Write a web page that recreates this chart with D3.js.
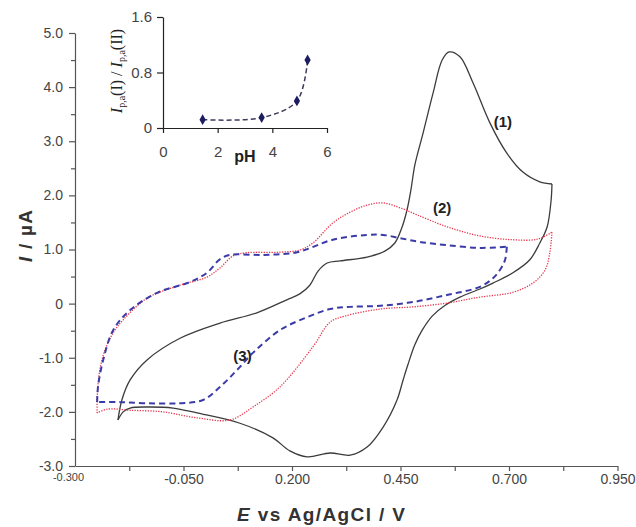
<!DOCTYPE html>
<html><head><meta charset="utf-8">
<script src="https://cdn.jsdelivr.net/npm/d3@7"></script>
<style>body{margin:0;background:#fff} svg{display:block}</style>
</head><body>
<svg id="c" width="636" height="527"></svg>
<script>
// ---- tick data ----
const xTicks = [-0.300, -0.050, 0.200, 0.450, 0.700, 0.950];
const xTickLabels = ["-0.300", "-0.050", "0.200", "0.450", "0.700", "0.950"];
const xMinor = [-0.175, 0.075, 0.325, 0.575, 0.825];
const yTicks = [5, 4, 3, 2, 1, 0, -1, -2, -3];
const yTickLabels = ["5.0", "4.0", "3.0", "2.0", "1.0", "0", "-1.0", "-2.0", "-3.0"];
const yMinor = [4.5, 3.5, 2.5, 1.5, 0.5, -0.5, -1.5, -2.5];

// ---- curve (1): black solid ----
const c1E_fwd = [-0.201,-0.192,-0.173,-0.134,-0.058,0.034,0.119,0.188,0.218,0.241,0.260,0.281,0.311,0.373,0.414,0.437,0.453,0.465,0.474,0.483,0.502,0.525,0.546,0.562,0.587,0.617,0.656,0.695,0.732,0.771,0.799];
const c1I_fwd = [-2.15,-1.78,-1.41,-1.04,-0.64,-0.36,-0.17,0.07,0.18,0.34,0.60,0.75,0.79,0.86,0.97,1.12,1.40,1.73,2.10,2.56,3.15,3.89,4.50,4.65,4.56,4.08,3.34,2.78,2.43,2.25,2.21];
const c1E_rev = [0.799,0.797,0.788,0.771,0.748,0.709,0.663,0.633,0.587,0.553,0.523,0.500,0.483,0.467,0.456,0.442,0.410,0.373,0.334,0.288,0.235,0.195,0.156,0.080,-0.019,-0.074,-0.134,-0.173,-0.189,-0.201];
const c1I_rev = [2.21,1.91,1.42,1.12,0.81,0.57,0.38,0.27,0.12,-0.03,-0.23,-0.49,-0.76,-1.13,-1.41,-1.78,-2.28,-2.65,-2.80,-2.76,-2.83,-2.72,-2.48,-2.21,-2.02,-1.93,-1.91,-1.93,-2.00,-2.15];

// ---- curve (2): red dotted ----
const c2E_fwd = [-0.249,-0.249,-0.247,-0.242,-0.231,-0.212,-0.189,-0.134,-0.058,0.004,0.034,0.064,0.096,0.172,0.218,0.248,0.294,0.334,0.373,0.410,0.449,0.488,0.557,0.633,0.709,0.765,0.799];
const c2I_fwd = [-2.02,-1.78,-1.50,-1.19,-0.86,-0.54,-0.30,0.10,0.34,0.49,0.66,0.88,0.94,0.95,0.99,1.12,1.49,1.69,1.82,1.86,1.77,1.64,1.42,1.25,1.18,1.19,1.32];
const c2E_rev = [0.799,0.794,0.783,0.755,0.709,0.633,0.557,0.479,0.403,0.322,0.288,0.248,0.172,0.110,0.057,-0.019,-0.097,-0.173,-0.226,-0.249];
const c2I_rev = [1.32,0.94,0.62,0.38,0.21,0.12,0.01,-0.06,-0.10,-0.23,-0.34,-0.80,-1.54,-1.91,-2.15,-2.11,-2.00,-1.97,-1.95,-2.02];

// ---- curve (3): blue dashed ----
const c3E_fwd = [-0.249,-0.247,-0.235,-0.212,-0.173,-0.111,-0.035,0.004,0.034,0.057,0.133,0.212,0.294,0.373,0.410,0.449,0.495,0.557,0.633,0.695];
const c3I_fwd = [-1.82,-1.54,-1.04,-0.49,-0.12,0.20,0.40,0.57,0.82,0.90,0.90,0.95,1.18,1.27,1.27,1.21,1.14,1.08,1.03,1.05];
const c3E_rev = [0.695,0.691,0.679,0.663,0.633,0.557,0.479,0.403,0.334,0.288,0.235,0.172,0.110,0.073,0.034,-0.005,-0.058,-0.134,-0.196,-0.249];
const c3I_rev = [1.05,0.81,0.62,0.47,0.31,0.16,0.03,-0.04,-0.06,-0.10,-0.25,-0.49,-0.91,-1.23,-1.54,-1.78,-1.84,-1.84,-1.82,-1.82];

// ---- curve labels ----
const curveLabels = ["(1)", "(2)", "(3)"];
const curveLabelE = [0.686, 0.546, 0.086];
const curveLabelI = [3.37, 1.77, -0.95];

// ---- inset ----
const insetPH = [1.45, 3.61, 4.90, 5.29];
const insetRatio = [0.12, 0.15, 0.39, 0.98];
const insetXTicks = [0, 2, 4, 6];
const insetXTickLabels = ["0", "2", "4", "6"];
const insetYTicks = [0, 0.8, 1.6];
const insetYTickLabels = ["0", "0.8", "1.6"];

const svg = d3.select("#c");
const x = d3.scaleLinear().domain([-0.3, 0.95]).range([75, 617.5]);
const y = d3.scaleLinear().domain([-3, 5]).range([466, 33]);
const axisColor = "#555";
const tickFont = "Liberation Sans, Arial, sans-serif";

function styleAxis(g, size) {
  g.select(".domain").attr("stroke", axisColor).attr("stroke-width", 1.2);
  g.selectAll(".tick line").attr("stroke", axisColor).attr("stroke-width", 1.2);
  g.selectAll(".tick text").attr("fill", "#444").style("font-family", tickFont).style("font-size", size + "px");
}

// main axes
const gx = svg.append("g").attr("transform", `translate(0,${y(-3)})`)
  .call(d3.axisBottom(x).tickValues(xTicks).tickFormat((d, i) => xTickLabels[i]).tickSize(5).tickPadding(3).tickSizeOuter(0));
styleAxis(gx, 14);
gx.selectAll(".tick").filter((d, i) => i === 0).select("text")
  .style("font-size", "11px").attr("x", -7).attr("y", 7);
gx.selectAll(".tick").filter((d, i) => i === 0).select("line").remove();
const gxm = svg.append("g").attr("transform", `translate(0,${y(-3)})`)
  .call(d3.axisBottom(x).tickValues(xMinor).tickFormat("").tickSize(5).tickSizeOuter(0));
gxm.select(".domain").remove();
gxm.selectAll(".tick line").attr("stroke", axisColor).attr("stroke-width", 1.2);

const gy = svg.append("g").attr("transform", `translate(${x(-0.3)},0)`)
  .call(d3.axisLeft(y).tickValues(yTicks).tickFormat((d, i) => yTickLabels[i]).tickSize(6).tickPadding(6).tickSizeOuter(0));
styleAxis(gy, 14);
const gym = svg.append("g").attr("transform", `translate(${x(-0.3)},0)`)
  .call(d3.axisLeft(y).tickValues(yMinor).tickFormat("").tickSize(4).tickSizeOuter(0));
gym.select(".domain").remove();
gym.selectAll(".tick line").attr("stroke", axisColor).attr("stroke-width", 1.2);

// curves
const line = d3.line().x(d => x(d[0])).y(d => y(d[1])).curve(d3.curveCatmullRom.alpha(0.5));
function drawCurve(E, I, stroke, width, dash) {
  svg.append("path").datum(d3.zip(E, I)).attr("d", line)
    .attr("fill", "none").attr("stroke", stroke).attr("stroke-width", width)
    .attr("stroke-dasharray", dash).attr("stroke-linejoin", "round");
}
drawCurve(c1E_fwd, c1I_fwd, "#3c3c3c", 1.3, null);
drawCurve(c1E_rev, c1I_rev, "#3c3c3c", 1.3, null);
drawCurve(c2E_fwd, c2I_fwd, "#e8394f", 1.3, "1.3,1.3");
drawCurve(c2E_rev, c2I_rev, "#e8394f", 1.3, "1.3,1.3");
drawCurve(c3E_fwd, c3I_fwd, "#3b3ba8", 2, "6,4");
drawCurve(c3E_rev, c3I_rev, "#3b3ba8", 2, "6,4");

// curve labels
svg.selectAll("text.cl").data(curveLabels).enter().append("text")
  .attr("class", "cl").attr("x", (d, i) => x(curveLabelE[i])).attr("y", (d, i) => y(curveLabelI[i]))
  .attr("text-anchor", "middle").attr("dominant-baseline", "central")
  .style("font-family", tickFont).style("font-weight", "bold").style("font-size", "15px")
  .attr("fill", "#222").text(d => d);

// axis titles
const xt = svg.append("text").attr("x", 321).attr("y", 521).attr("text-anchor", "middle")
  .style("font-family", tickFont).style("font-weight", "bold").style("font-size", "19px").attr("fill", "#333")
  .attr("textLength", 168).attr("lengthAdjust", "spacing");
xt.append("tspan").style("font-style", "italic").text("E");
xt.append("tspan").text(" vs Ag/AgCl / V");

const yt = svg.append("text").attr("transform", "translate(32,236) rotate(-90)").attr("text-anchor", "middle")
  .style("font-family", tickFont).style("font-weight", "bold").style("font-size", "19px").attr("fill", "#333")
  .attr("textLength", 52).attr("lengthAdjust", "spacing");
yt.append("tspan").style("font-style", "italic").text("I");
yt.append("tspan").text(" / µA");

// ---- inset ----
const xi = d3.scaleLinear().domain([0, 6]).range([163, 327]);
const yi = d3.scaleLinear().domain([0, 1.6]).range([128, 17]);
const gix = svg.append("g").attr("transform", `translate(0,${yi(0)})`)
  .call(d3.axisBottom(xi).tickValues(insetXTicks).tickFormat((d, i) => insetXTickLabels[i]).tickSize(5).tickPadding(13).tickSizeOuter(0));
styleAxis(gix, 15);
gix.selectAll(".domain, .tick line").attr("stroke", "#222");
const giy = svg.append("g").attr("transform", `translate(${xi(0)},0)`)
  .call(d3.axisLeft(yi).tickValues(insetYTicks).tickFormat((d, i) => insetYTickLabels[i]).tickSize(6).tickPadding(5).tickSizeOuter(0));
styleAxis(giy, 15);
giy.selectAll(".domain, .tick line").attr("stroke", "#222");

const iline = d3.line().x(d => xi(d[0])).y(d => yi(d[1])).curve(d3.curveCatmullRom.alpha(0.5));
svg.append("path").datum(d3.zip(insetPH, insetRatio)).attr("d", iline)
  .attr("fill", "none").attr("stroke", "#3a3a5c").attr("stroke-width", 1.5).attr("stroke-dasharray", "5,3");
svg.selectAll("path.dm").data(d3.zip(insetPH, insetRatio)).enter().append("path").attr("class", "dm")
  .attr("d", d3.symbol().type(d3.symbolDiamond).size(34))
  .attr("transform", d => `translate(${xi(d[0])},${yi(d[1])})`)
  .attr("fill", "#1c1c60");

svg.append("text").attr("x", 245).attr("y", 162).attr("text-anchor", "middle")
  .style("font-family", tickFont).style("font-weight", "bold").style("font-size", "16px").attr("fill", "#222").text("pH");

const iyt = svg.append("text").attr("transform", "translate(122,71) rotate(-90)").attr("text-anchor", "middle")
  .style("font-family", "Liberation Serif, Times New Roman, serif").style("font-size", "16px").attr("fill", "#222");
iyt.append("tspan").style("font-style", "italic").text("I");
iyt.append("tspan").attr("dy", 3).style("font-size", "10px").text("p,a");
iyt.append("tspan").attr("dy", -3).text("(I) / ");
iyt.append("tspan").style("font-style", "italic").text("I");
iyt.append("tspan").attr("dy", 3).style("font-size", "10px").text("p,a");
iyt.append("tspan").attr("dy", -3).text("(II)");
</script>
</body></html>
